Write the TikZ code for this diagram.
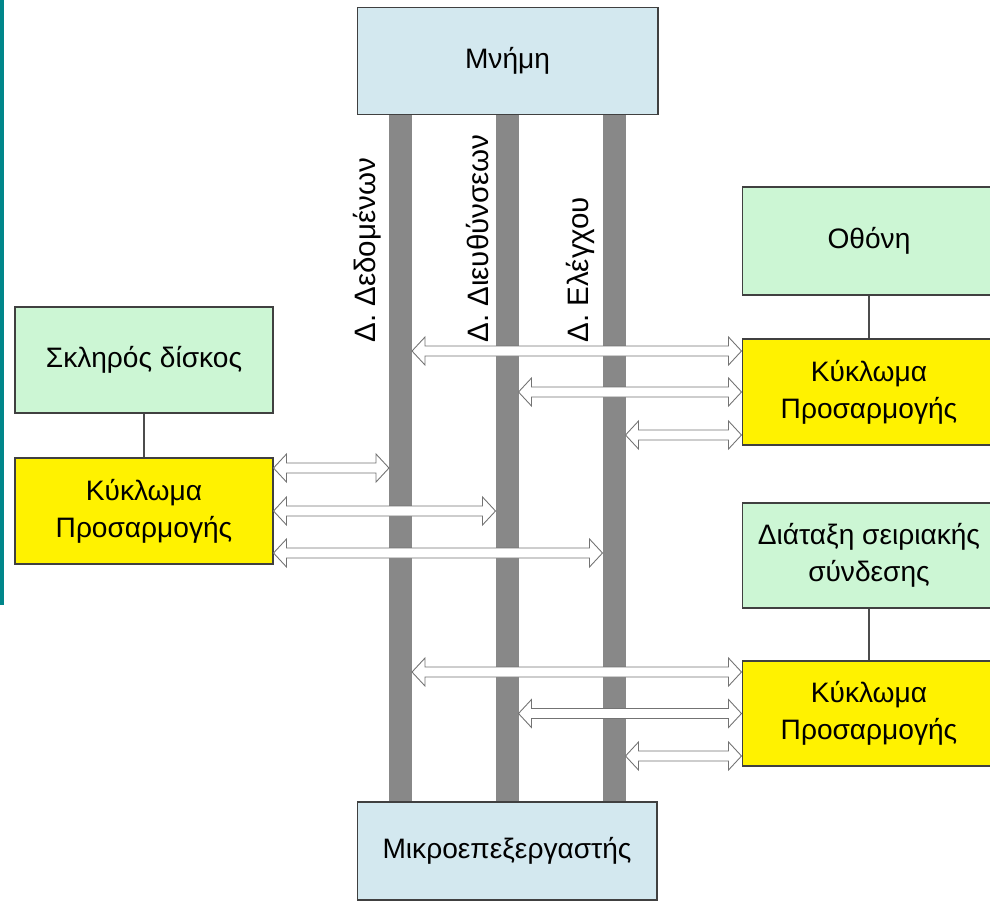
\documentclass[tikz,border=0pt]{standalone}
\usepackage{fontspec}
\setmainfont{Liberation Sans}
\usepackage{tikz}
\usetikzlibrary{calc}
\definecolor{memblue}{RGB}{211,232,239}
\definecolor{devgreen}{RGB}{204,246,212}
\definecolor{busgray}{RGB}{136,136,136}
\definecolor{sidebar}{RGB}{0,134,138}
\tikzset{
	box/.style={draw=black!75, line width=0.6pt, align=center, inner sep=2pt,
		font=\fontsize{16}{21}\selectfont}
}
\tikzset{
	unitbox/.style={box, fill=memblue, minimum width=6.02cm, minimum height=2.14cm},
	devbox/.style={box, fill=devgreen, minimum height=2.12cm},
	adapterbox/.style={box, fill=yellow, minimum height=2.12cm}
}
\tikzset{
	busbar/.style={fill=busgray, inner sep=0pt, outer sep=0pt,
		minimum width=0.46cm, minimum height=13.76cm},
	buslabel/.style={font=\fontsize{16.8}{19}\selectfont, inner sep=0pt, anchor=west, rotate=90},
	link/.style={draw=black!70, line width=0.8pt}
}
\tikzset{
	busarrow/.style={draw=black!55, fill=white, line width=0.5pt,
		to path={let \p1=(\tikztostart), \p2=(\tikztotarget) in
			(\x1,\y1) -- (\x1+0.26cm,\y1+0.28cm) -- (\x1+0.26cm,\y1+0.1cm)
			-- (\x2-0.26cm,\y1+0.1cm) -- (\x2-0.26cm,\y1+0.28cm) -- (\x2,\y1)
			-- (\x2-0.26cm,\y1-0.28cm) -- (\x2-0.26cm,\y1-0.1cm)
			-- (\x1+0.26cm,\y1-0.1cm) -- (\x1+0.26cm,\y1-0.28cm) -- cycle}}
}

\begin{document}
\begin{tikzpicture}[x=0.02cm, y=-0.02cm]
      \useasboundingbox (0,0) rectangle (990,907);
      \fill[sidebar] (0,0) rectangle (4,605);

      % the three buses
      \node[busbar] (dbus) at (400.5,458) {};
      \node[busbar] (abus) at (507,458) {};
      \node[busbar] (cbus) at (614,458) {};

      \node[buslabel] (dlabel) at (367,343) {Δ. Δεδομένων};
      \node[buslabel] (alabel) at (478,343) {Δ. Διευθύνσεων};
      \node[buslabel] (clabel) at (580,343) {Δ. Ελέγχου};

      \node[unitbox] (mem) at (507.5,61) {Μνήμη};
      \node[unitbox, minimum width=6cm, minimum height=1.96cm] (cpu) at (507,851) {Μικροεπεξεργαστής};

      % devices and their adapters
      \node[devbox, minimum width=5.16cm] (disk) at (144,360) {Σκληρός δίσκος};
      \node[adapterbox, minimum width=5.16cm] (adL) at (144,511) {Κύκλωμα\\Προσαρμογής};
      \node[devbox, minimum width=5.08cm, minimum height=2.16cm] (screen) at (869,241) {Οθόνη};
      \node[adapterbox, minimum width=5.08cm] (adR1) at (869,392) {Κύκλωμα\\Προσαρμογής};
      \node[devbox, minimum width=5.08cm, minimum height=2.1cm] (serial) at (869,555.5) {Διάταξη σειριακής\\σύνδεσης};
      \node[adapterbox, minimum width=5.08cm, minimum height=2.1cm] (adR2) at (869,713.5) {Κύκλωμα\\Προσαρμογής};

      \draw[link] (disk) -- (adL);
      \draw[link] (screen) -- (adR1);
      \draw[link] (serial) -- (adR2);

      % arrow rows on each adapter
      \coordinate (l1) at ([yshift=0.86cm]adL.east);
      \coordinate (l2) at (adL.east);
      \coordinate (l3) at ([yshift=-0.84cm]adL.east);
      \coordinate (r1) at ([yshift=0.82cm]adR1.west);
      \coordinate (r2) at (adR1.west);
      \coordinate (r3) at ([yshift=-0.86cm]adR1.west);
      \coordinate (s1) at ([yshift=0.83cm]adR2.west);
      \coordinate (s2) at (adR2.west);
      \coordinate (s3) at ([yshift=-0.85cm]adR2.west);

      \draw[busarrow] (l1) to (dbus.west |- l1);
      \draw[busarrow] (l2) to (abus.west |- l2);
      \draw[busarrow] (l3) to (cbus.west |- l3);

      \draw[busarrow] (dbus.east |- r1) to (r1);
      \draw[busarrow] (abus.east |- r2) to (r2);
      \draw[busarrow] (cbus.east |- r3) to (r3);

      \draw[busarrow] (dbus.east |- s1) to (s1);
      \draw[busarrow] (abus.east |- s2) to (s2);
      \draw[busarrow] (cbus.east |- s3) to (s3);
\end{tikzpicture}
\end{document}
